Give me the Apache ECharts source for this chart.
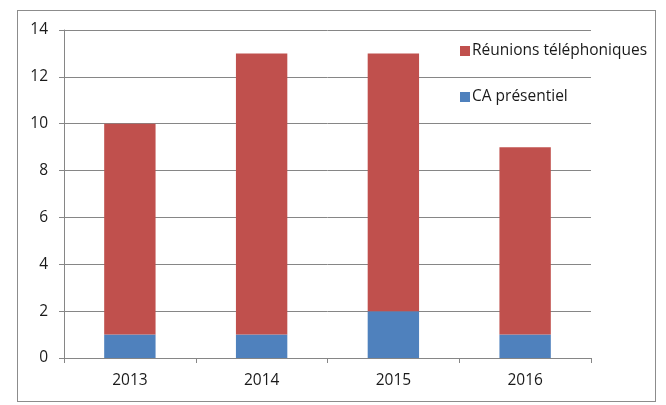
<!DOCTYPE html>
<html>
<head>
<meta charset="utf-8">
<script src="https://cdn.jsdelivr.net/npm/echarts@6/dist/echarts.min.js"></script>
<style>
  html, body { margin: 0; padding: 0; background: #fff; }
  #frame { position: absolute; left: 17px; top: 10px; width: 639px; height: 392px; border: 1px solid #8c8c8c; box-sizing: border-box; }
  #chart { width: 666px; height: 405px; }
</style>
</head>
<body>
<div id="frame"></div>
<div id="chart"></div>
<script>
// données
const years = ['2013', '2014', '2015', '2016']
const caPresentiel = [1, 1, 2, 1]
const reunionsTel = [9, 12, 11, 8]

const chart = echarts.init(document.getElementById('chart'))
const font = 'Open Sans, Liberation Sans, sans-serif'
chart.setOption({
  animation: false,
  textStyle: { fontFamily: font },
  grid: { left: 64, right: 75, top: 30, bottom: 47 },
  legend: {
    orient: 'vertical',
    left: 455,
    top: 38,
    itemGap: 30,
    itemWidth: 10,
    itemHeight: 10,
    icon: 'rect',
    data: ['Réunions téléphoniques', 'CA présentiel'],
    textStyle: { fontSize: 15.5, color: '#1a1a1a', fontFamily: font, padding: [0, 0, 0, -3] }
  },
  xAxis: {
    type: 'category',
    data: years,
    axisLine: { lineStyle: { color: '#868686' } },
    axisTick: { show: true, length: 5, lineStyle: { color: '#868686' } },
    axisLabel: { fontSize: 15.5, color: '#1a1a1a', margin: 15 }
  },
  yAxis: {
    type: 'value',
    min: 0,
    max: 14,
    interval: 2,
    axisLine: { show: true, lineStyle: { color: '#868686' } },
    axisTick: { show: true, length: 5, lineStyle: { color: '#868686' } },
    axisLabel: { fontSize: 15.5, color: '#1a1a1a', margin: 16 },
    splitLine: { lineStyle: { color: '#868686' } }
  },
  series: [
    {
      name: 'CA présentiel',
      type: 'bar',
      stack: 'total',
      barWidth: '39%',
      itemStyle: { color: '#4F81BD' },
      data: caPresentiel
    },
    {
      name: 'Réunions téléphoniques',
      type: 'bar',
      stack: 'total',
      barWidth: '39%',
      itemStyle: { color: '#C0504D' },
      data: reunionsTel
    }
  ]
})
</script>
</body>
</html>
